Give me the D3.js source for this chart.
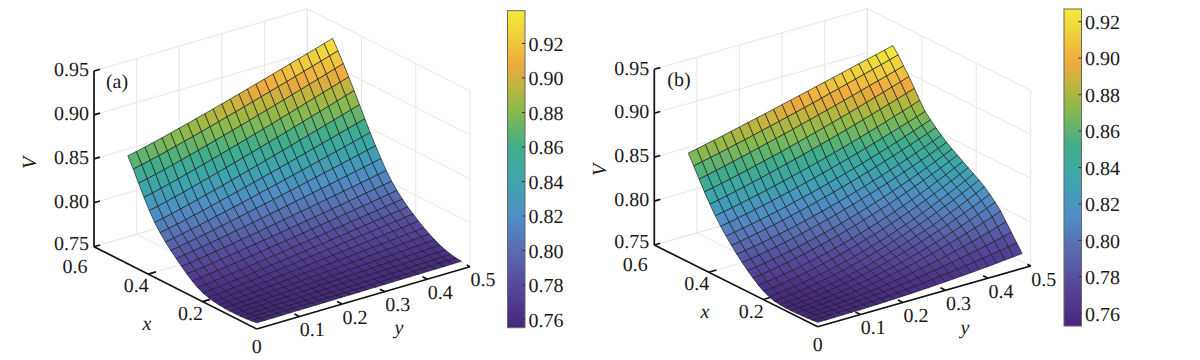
<!DOCTYPE html>
<html>
<head>
<meta charset="utf-8">
<script src="https://cdn.jsdelivr.net/npm/d3@7"></script>
<style>
  html, body { margin: 0; background: #fff; }
  text { font-family: "Liberation Serif", serif; fill: #1a1a1a; text-rendering: geometricPrecision; }
</style>
</head>
<body>
<svg id="chart" width="1200" height="360"></svg>
<script>
// mesh nodes
const xNodes = [0, .0198, .0396, .0594, .0792, .099, .1188, .1386, .1584, .1782, .198, .2178, .2376, .2574, .2772, .297, .3168, .3366, .3564, .3762, .396, .4158, .4356, .4554, .4752];
const yNodes = [0, .02, .04, .06, .08, .1, .12, .14, .16, .18, .2, .22, .24, .26, .28, .3, .32, .34, .36, .38, .4, .42, .44, .46, .48];

// V, one row per x node
const surfaceA = [
  [.7570,.7571,.7571,.7572,.7573,.7574,.7574,.7575,.7576,.7577,.7578,.7578,.7579,.7580,.7581,.7582,.7583,.7584,.7585,.7585,.7586,.7587,.7588,.7589,.7590],
  [.7562,.7563,.7563,.7564,.7565,.7565,.7566,.7567,.7568,.7569,.7570,.7571,.7572,.7573,.7575,.7576,.7578,.7579,.7581,.7583,.7585,.7588,.7591,.7593,.7596],
  [.7556,.7557,.7558,.7559,.7560,.7562,.7563,.7565,.7566,.7568,.7570,.7572,.7574,.7576,.7578,.7580,.7583,.7586,.7589,.7592,.7595,.7598,.7601,.7604,.7608],
  [.7551,.7553,.7556,.7559,.7561,.7564,.7567,.7570,.7573,.7576,.7579,.7582,.7586,.7589,.7592,.7595,.7598,.7602,.7605,.7608,.7612,.7615,.7618,.7622,.7625],
  [.7549,.7552,.7556,.7559,.7563,.7567,.7571,.7575,.7579,.7583,.7588,.7592,.7596,.7600,.7605,.7609,.7614,.7618,.7623,.7627,.7632,.7636,.7641,.7645,.7650],
  [.7549,.7553,.7558,.7562,.7567,.7572,.7578,.7583,.7588,.7594,.7599,.7605,.7610,.7616,.7621,.7627,.7633,.7639,.7644,.7650,.7656,.7662,.7668,.7674,.7680],
  [.7552,.7557,.7563,.7569,.7575,.7581,.7587,.7594,.7601,.7607,.7614,.7621,.7628,.7635,.7642,.7649,.7656,.7664,.7671,.7678,.7685,.7693,.7700,.7708,.7715],
  [.7558,.7564,.7571,.7578,.7585,.7593,.7601,.7609,.7617,.7625,.7633,.7642,.7650,.7658,.7667,.7675,.7684,.7693,.7702,.7710,.7719,.7728,.7737,.7746,.7755],
  [.7567,.7574,.7582,.7591,.7599,.7608,.7618,.7627,.7637,.7646,.7656,.7666,.7676,.7686,.7696,.7706,.7716,.7726,.7737,.7747,.7758,.7768,.7779,.7789,.7800],
  [.7580,.7588,.7598,.7607,.7618,.7628,.7639,.7650,.7661,.7672,.7683,.7694,.7706,.7718,.7729,.7741,.7753,.7765,.7777,.7789,.7801,.7813,.7825,.7838,.7850],
  [.7600,.7609,.7620,.7630,.7642,.7653,.7665,.7677,.7690,.7702,.7715,.7727,.7740,.7753,.7766,.7779,.7792,.7805,.7819,.7832,.7845,.7859,.7873,.7886,.7900],
  [.7632,.7642,.7653,.7665,.7677,.7690,.7703,.7716,.7729,.7743,.7756,.7770,.7784,.7798,.7812,.7826,.7841,.7855,.7870,.7884,.7899,.7913,.7928,.7943,.7958],
  [.7675,.7686,.7698,.7711,.7724,.7737,.7751,.7765,.7780,.7794,.7809,.7823,.7838,.7853,.7868,.7884,.7899,.7915,.7930,.7946,.7961,.7977,.7993,.8009,.8025],
  [.7725,.7736,.7749,.7763,.7777,.7792,.7807,.7822,.7837,.7853,.7868,.7884,.7900,.7916,.7932,.7949,.7965,.7982,.7998,.8015,.8032,.8049,.8066,.8083,.8100],
  [.7780,.7792,.7807,.7822,.7837,.7853,.7869,.7886,.7902,.7919,.7936,.7954,.7971,.7989,.8007,.8024,.8042,.8061,.8079,.8097,.8115,.8134,.8153,.8171,.8190],
  [.7838,.7852,.7868,.7884,.7902,.7919,.7937,.7956,.7975,.7993,.8012,.8032,.8051,.8071,.8091,.8111,.8131,.8151,.8171,.8191,.8212,.8233,.8253,.8274,.8295],
  [.7900,.7915,.7933,.7952,.7971,.7991,.8011,.8032,.8052,.8073,.8095,.8116,.8138,.8160,.8182,.8204,.8227,.8249,.8272,.8294,.8317,.8340,.8363,.8387,.8410],
  [.7965,.7982,.8002,.8022,.8044,.8066,.8088,.8111,.8134,.8157,.8181,.8205,.8229,.8253,.8277,.8302,.8327,.8352,.8377,.8402,.8427,.8453,.8478,.8504,.8530],
  [.8040,.8059,.8080,.8102,.8126,.8150,.8174,.8199,.8224,.8249,.8275,.8301,.8327,.8353,.8380,.8407,.8434,.8461,.8488,.8516,.8543,.8571,.8599,.8627,.8655],
  [.8125,.8145,.8168,.8192,.8217,.8243,.8269,.8295,.8322,.8349,.8377,.8405,.8433,.8461,.8490,.8519,.8548,.8577,.8606,.8635,.8665,.8695,.8725,.8755,.8785],
  [.8230,.8251,.8275,.8300,.8325,.8352,.8379,.8407,.8435,.8463,.8491,.8520,.8550,.8579,.8609,.8638,.8669,.8699,.8729,.8760,.8790,.8821,.8852,.8884,.8915],
  [.8350,.8371,.8395,.8420,.8446,.8473,.8500,.8528,.8556,.8585,.8613,.8642,.8672,.8701,.8731,.8761,.8792,.8822,.8853,.8884,.8914,.8946,.8977,.9008,.9040],
  [.8480,.8501,.8524,.8549,.8575,.8601,.8628,.8655,.8683,.8711,.8740,.8768,.8797,.8826,.8856,.8885,.8915,.8945,.8976,.9006,.9036,.9067,.9098,.9129,.9160],
  [.8610,.8630,.8653,.8677,.8703,.8728,.8755,.8781,.8809,.8836,.8864,.8892,.8920,.8949,.8978,.9007,.9036,.9065,.9095,.9124,.9154,.9184,.9214,.9245,.9275],
  [.8730,.8750,.8773,.8796,.8821,.8847,.8873,.8899,.8926,.8953,.8980,.9008,.9036,.9064,.9092,.9121,.9149,.9178,.9207,.9237,.9266,.9295,.9325,.9355,.9385]
];

// V
const surfaceB = [
  [.7550,.7550,.7551,.7552,.7553,.7555,.7558,.7560,.7563,.7567,.7571,.7575,.7580,.7585,.7591,.7597,.7603,.7610,.7618,.7625,.7633,.7642,.7651,.7660,.7670],
  [.7544,.7544,.7545,.7547,.7550,.7553,.7558,.7562,.7568,.7574,.7581,.7589,.7598,.7607,.7618,.7628,.7640,.7652,.7666,.7679,.7694,.7709,.7726,.7742,.7760],
  [.7539,.7540,.7543,.7546,.7551,.7556,.7563,.7570,.7579,.7588,.7599,.7610,.7623,.7636,.7651,.7666,.7683,.7700,.7719,.7738,.7758,.7780,.7802,.7826,.7850],
  [.7535,.7537,.7540,.7545,.7550,.7558,.7566,.7576,.7587,.7599,.7613,.7628,.7644,.7662,.7681,.7701,.7722,.7745,.7769,.7794,.7821,.7849,.7878,.7908,.7940],
  [.7532,.7536,.7541,.7548,.7556,.7566,.7577,.7590,.7604,.7620,.7637,.7656,.7676,.7697,.7720,.7745,.7771,.7798,.7827,.7857,.7889,.7922,.7956,.7992,.8030],
  [.7530,.7534,.7540,.7548,.7558,.7569,.7582,.7597,.7613,.7631,.7650,.7672,.7695,.7719,.7746,.7774,.7803,.7834,.7867,.7902,.7938,.7976,.8016,.8057,.8100],
  [.7531,.7537,.7546,.7556,.7568,.7582,.7597,.7614,.7633,.7653,.7676,.7699,.7725,.7752,.7781,.7811,.7843,.7877,.7913,.7950,.7989,.8029,.8071,.8115,.8160],
  [.7535,.7542,.7551,.7562,.7575,.7590,.7606,.7625,.7645,.7667,.7691,.7717,.7745,.7774,.7805,.7838,.7873,.7909,.7947,.7988,.8030,.8073,.8119,.8166,.8215],
  [.7545,.7554,.7566,.7579,.7595,.7612,.7630,.7651,.7673,.7697,.7723,.7750,.7779,.7810,.7843,.7877,.7913,.7950,.7989,.8030,.8073,.8117,.8163,.8211,.8260],
  [.7565,.7574,.7587,.7600,.7616,.7634,.7653,.7674,.7697,.7721,.7748,.7776,.7806,.7837,.7871,.7906,.7943,.7981,.8022,.8064,.8108,.8153,.8200,.8249,.8300],
  [.7595,.7607,.7621,.7637,.7654,.7674,.7694,.7717,.7741,.7767,.7794,.7823,.7854,.7885,.7919,.7954,.7991,.8029,.8069,.8110,.8153,.8198,.8243,.8291,.8340],
  [.7635,.7647,.7661,.7677,.7694,.7714,.7734,.7757,.7781,.7807,.7834,.7863,.7894,.7925,.7959,.7994,.8031,.8069,.8109,.8150,.8193,.8238,.8283,.8331,.8380],
  [.7685,.7699,.7715,.7732,.7751,.7772,.7794,.7817,.7842,.7868,.7896,.7924,.7954,.7986,.8019,.8053,.8088,.8125,.8163,.8203,.8244,.8286,.8329,.8374,.8420],
  [.7740,.7753,.7769,.7786,.7805,.7825,.7846,.7870,.7894,.7919,.7946,.7974,.8004,.8035,.8067,.8100,.8135,.8171,.8209,.8247,.8287,.8329,.8371,.8415,.8460],
  [.7800,.7815,.7832,.7851,.7871,.7892,.7914,.7938,.7963,.7988,.8015,.8043,.8072,.8102,.8134,.8166,.8199,.8234,.8269,.8306,.8344,.8383,.8422,.8463,.8505],
  [.7865,.7880,.7897,.7915,.7934,.7955,.7977,.8000,.8024,.8049,.8076,.8103,.8131,.8161,.8192,.8223,.8256,.8289,.8324,.8360,.8397,.8435,.8474,.8514,.8555],
  [.7935,.7951,.7970,.7989,.8010,.8032,.8054,.8078,.8102,.8127,.8154,.8181,.8209,.8237,.8267,.8297,.8329,.8361,.8394,.8428,.8463,.8499,.8535,.8572,.8610],
  [.8010,.8026,.8044,.8063,.8083,.8105,.8126,.8150,.8174,.8198,.8224,.8250,.8277,.8306,.8335,.8364,.8395,.8427,.8459,.8492,.8526,.8561,.8596,.8633,.8670],
  [.8090,.8107,.8127,.8147,.8168,.8191,.8213,.8237,.8261,.8285,.8311,.8337,.8364,.8391,.8420,.8448,.8478,.8508,.8538,.8570,.8602,.8634,.8667,.8700,.8735],
  [.8180,.8197,.8217,.8238,.8259,.8281,.8304,.8328,.8352,.8377,.8403,.8429,.8456,.8484,.8512,.8541,.8571,.8601,.8632,.8663,.8696,.8729,.8761,.8795,.8830],
  [.8280,.8299,.8321,.8343,.8366,.8390,.8414,.8439,.8465,.8490,.8517,.8543,.8571,.8599,.8627,.8656,.8685,.8715,.8745,.8776,.8807,.8838,.8870,.8902,.8935],
  [.8390,.8409,.8431,.8453,.8476,.8499,.8523,.8548,.8573,.8598,.8625,.8651,.8679,.8706,.8735,.8763,.8792,.8821,.8851,.8882,.8913,.8944,.8975,.9007,.9040],
  [.8505,.8525,.8548,.8570,.8594,.8618,.8642,.8667,.8692,.8717,.8743,.8768,.8795,.8821,.8848,.8875,.8902,.8930,.8958,.8986,.9015,.9043,.9071,.9100,.9130],
  [.8625,.8645,.8666,.8688,.8710,.8734,.8756,.8780,.8805,.8828,.8853,.8878,.8903,.8929,.8954,.8980,.9007,.9033,.9060,.9087,.9114,.9142,.9168,.9196,.9225],
  [.8740,.8760,.8781,.8803,.8825,.8848,.8871,.8894,.8917,.8940,.8963,.8987,.9010,.9034,.9058,.9082,.9106,.9130,.9154,.9178,.9203,.9227,.9251,.9275,.9300]
];

// tick labels
const xTicks = [0, .2, .4, .6];
const xTickLabels = ['0', '0.2', '0.4', '0.6'];
const yTicks = [.1, .2, .3, .4, .5];
const yTickLabels = ['0.1', '0.2', '0.3', '0.4', '0.5'];
const zTicks = [.75, .8, .85, .9, .95];
const zTickLabels = ['0.75', '0.80', '0.85', '0.90', '0.95'];
const barTicks = [.76, .78, .8, .82, .84, .86, .88, .9, .92];
const barTickLabels = ['0.76', '0.78', '0.80', '0.82', '0.84', '0.86', '0.88', '0.90', '0.92'];

// colormap stops, position along the bar -> colour
const cmapPos = [0, .13, .24, .35, .46, .57, .68, .76, .83, .9, 1];
const cmapColors = ['#46267c', '#57479a', '#5a6bb0', '#4f8fc6', '#3ea4ad', '#40ad8a', '#86b94e', '#bcb53e', '#f0a93e', '#efc73d', '#f3ea3a'];

const panels = [
  {
    id: 'a', name: '(a)', values: surfaceA, vDomain: [.7549, .939],
    origin: [256.7, 329], ex: [-162.7, -82.3], ey: [213.3, -62.3], ez: [0, -175.7],
    namePos: [117, 88], vPos: [36, 163], xLabelPos: [147, 330], yLabelPos: [399, 334],
    bar: { x: 507.5, w: 17.5, top: 10.7, bottom: 327.7, tick0: 319.5, tick1: 43.5 },
  },
  {
    id: 'b', name: '(b)', values: surfaceB, vDomain: [.753, .927],
    origin: [817.7, 326.7], ex: [-163.4, -81.7], ey: [213, -60.7], ez: [0, -175.7],
    namePos: [679, 86], vPos: [606, 170], xLabelPos: [705, 318], yLabelPos: [965, 334],
    bar: { x: 1064, w: 17.5, top: 9, bottom: 326, tick0: 313.3, tick1: 21.7 },
  },
];

const svg = d3.select('#chart');
const fontSize = 20;

function drawPanel(p) {
  const g = svg.append('g').attr('class', `panel-${p.id}`);

  // unit scales along each box edge
  const sx = d3.scaleLinear().domain([0, .6]).range([0, 1]);
  const sy = d3.scaleLinear().domain([0, .5]).range([0, 1]);
  const sz = d3.scaleLinear().domain([.75, .95]).range([0, 1]);
  const project = (x, y, z) => [
    p.origin[0] + sx(x) * p.ex[0] + sy(y) * p.ey[0] + sz(z) * p.ez[0],
    p.origin[1] + sx(x) * p.ex[1] + sy(y) * p.ey[1] + sz(z) * p.ez[1],
  ];
  const seg = (cls, a, b) => g.append('line').attr('class', cls)
    .attr('x1', a[0]).attr('y1', a[1]).attr('x2', b[0]).attr('y2', b[1]);

  // Back walls and floor grid
  const grid = (a, b) => seg('grid', a, b).attr('stroke', '#e9e7e5').attr('stroke-width', 1);
  for (const z of zTicks) {
    grid(project(.6, 0, z), project(.6, .5, z));
    grid(project(.6, .5, z), project(0, .5, z));
  }
  for (const y of [0, ...yTicks]) {
    grid(project(.6, y, .75), project(.6, y, .95));
    grid(project(0, y, .75), project(.6, y, .75));
  }
  for (const x of xTicks) {
    grid(project(x, .5, .75), project(x, .5, .95));
    grid(project(x, 0, .75), project(x, .5, .75));
  }

  // Axes
  const axis = (a, b) => seg('axis', a, b).attr('stroke', '#111').attr('stroke-width', 1.7);
  axis(project(.6, 0, .75), project(.6, 0, .95));
  axis(project(.6, 0, .75), project(0, 0, .75));
  axis(project(0, 0, .75), project(0, .5, .75));

  zTicks.forEach((z, i) => {
    axis(project(.6, 0, z), project(.6, .014, z));
    const [px, py] = project(.6, 0, z);
    g.append('text').attr('x', px - 5).attr('y', py - (z === .75 ? 4 : 2)).attr('dy', '.36em')
      .attr('text-anchor', 'end').attr('font-size', fontSize).text(zTickLabels[i]);
  });
  xTicks.forEach((x, i) => {
    if (x > 0 && x < .6) axis(project(x, 0, .75), project(x, .018, .75));
    const [px, py] = project(x, 0, .75);
    const off = x === 0 ? [0, 17] : x === .6 ? [-19, 19] : [-12, 11];
    g.append('text').attr('x', px + off[0]).attr('y', py + off[1]).attr('dy', '.36em')
      .attr('text-anchor', 'middle').attr('font-size', fontSize).text(xTickLabels[i]);
  });
  yTicks.forEach((y, i) => {
    if (y < .5) axis(project(0, y, .75), project(.018, y, .75));
    else axis(project(0, y, .75), project(.012, y, .75));
    const [px, py] = project(0, y, .75);
    g.append('text').attr('x', px + 13).attr('y', py + 12.5).attr('dy', '.36em')
      .attr('text-anchor', 'middle').attr('font-size', fontSize).text(yTickLabels[i]);
  });

  // Axis names
  const italic = (pos, txt) => g.append('text').attr('x', pos[0]).attr('y', pos[1])
    .attr('text-anchor', 'middle').attr('font-size', fontSize).attr('font-style', 'italic').text(txt);
  italic(p.xLabelPos, 'x');
  italic(p.yLabelPos, 'y');
  g.append('text').attr('transform', `translate(${p.vPos[0]},${p.vPos[1]}) rotate(-90)`)
    .attr('text-anchor', 'middle').attr('font-size', fontSize).attr('font-style', 'italic').text('V');
  g.append('text').attr('x', p.namePos[0]).attr('y', p.namePos[1])
    .attr('text-anchor', 'middle').attr('font-size', fontSize).text(p.name);

  // Surface colours
  const cmap = d3.scaleLinear().domain(cmapPos).range(cmapColors).interpolate(d3.interpolateRgb);
  const norm = d3.scaleLinear().domain(p.vDomain).range([0, 1]).clamp(true);

  // Cells, far corner first so near cells paint over
  const cells = [];
  for (let i = 0; i < xNodes.length - 1; i++) {
    for (let j = 0; j < yNodes.length - 1; j++) {
      const r0 = p.values[i], r1 = p.values[i + 1];
      cells.push({
        i, j,
        v: d3.mean([r0[j], r0[j + 1], r1[j], r1[j + 1]]),
        pts: [
          project(xNodes[i], yNodes[j], r0[j]),
          project(xNodes[i], yNodes[j + 1], r0[j + 1]),
          project(xNodes[i + 1], yNodes[j + 1], r1[j + 1]),
          project(xNodes[i + 1], yNodes[j], r1[j]),
        ],
      });
    }
  }
  cells.sort((a, b) => (b.i + b.j) - (a.i + a.j));
  g.append('g').attr('class', 'surface').selectAll('path').data(cells).join('path')
    .attr('d', d => `M${d.pts.join('L')}Z`)
    .attr('fill', d => cmap(norm(d.v)))
    .attr('stroke', 'rgba(22,30,36,0.8)')
    .attr('stroke-width', 0.85)
    .attr('stroke-linejoin', 'round');

  // Colorbar
  const b = p.bar;
  const barY = d3.scaleLinear().domain([barTicks[0], barTicks[8]]).range([b.tick0, b.tick1]);
  const gradId = `bar-grad-${p.id}`;
  const grad = svg.append('defs').append('linearGradient').attr('id', gradId)
    .attr('x1', 0).attr('y1', 1).attr('x2', 0).attr('y2', 0);
  cmapPos.forEach((pos, i) => {
    grad.append('stop').attr('offset', pos).attr('stop-color', cmapColors[i]);
  });
  g.append('rect').attr('x', b.x).attr('y', b.top).attr('width', b.w).attr('height', b.bottom - b.top)
    .attr('fill', `url(#${gradId})`).attr('stroke', '#666').attr('stroke-width', 1);
  barTicks.forEach((t, i) => {
    g.append('line').attr('x1', b.x + b.w - 3).attr('x2', b.x + b.w)
      .attr('y1', barY(t)).attr('y2', barY(t)).attr('stroke', '#333').attr('stroke-width', 1);
    g.append('text').attr('x', b.x + b.w + 3.5).attr('y', barY(t)).attr('dy', '.36em')
      .attr('font-size', fontSize).text(barTickLabels[i]);
  });
}

panels.forEach(drawPanel);
</script>
</body>
</html>
